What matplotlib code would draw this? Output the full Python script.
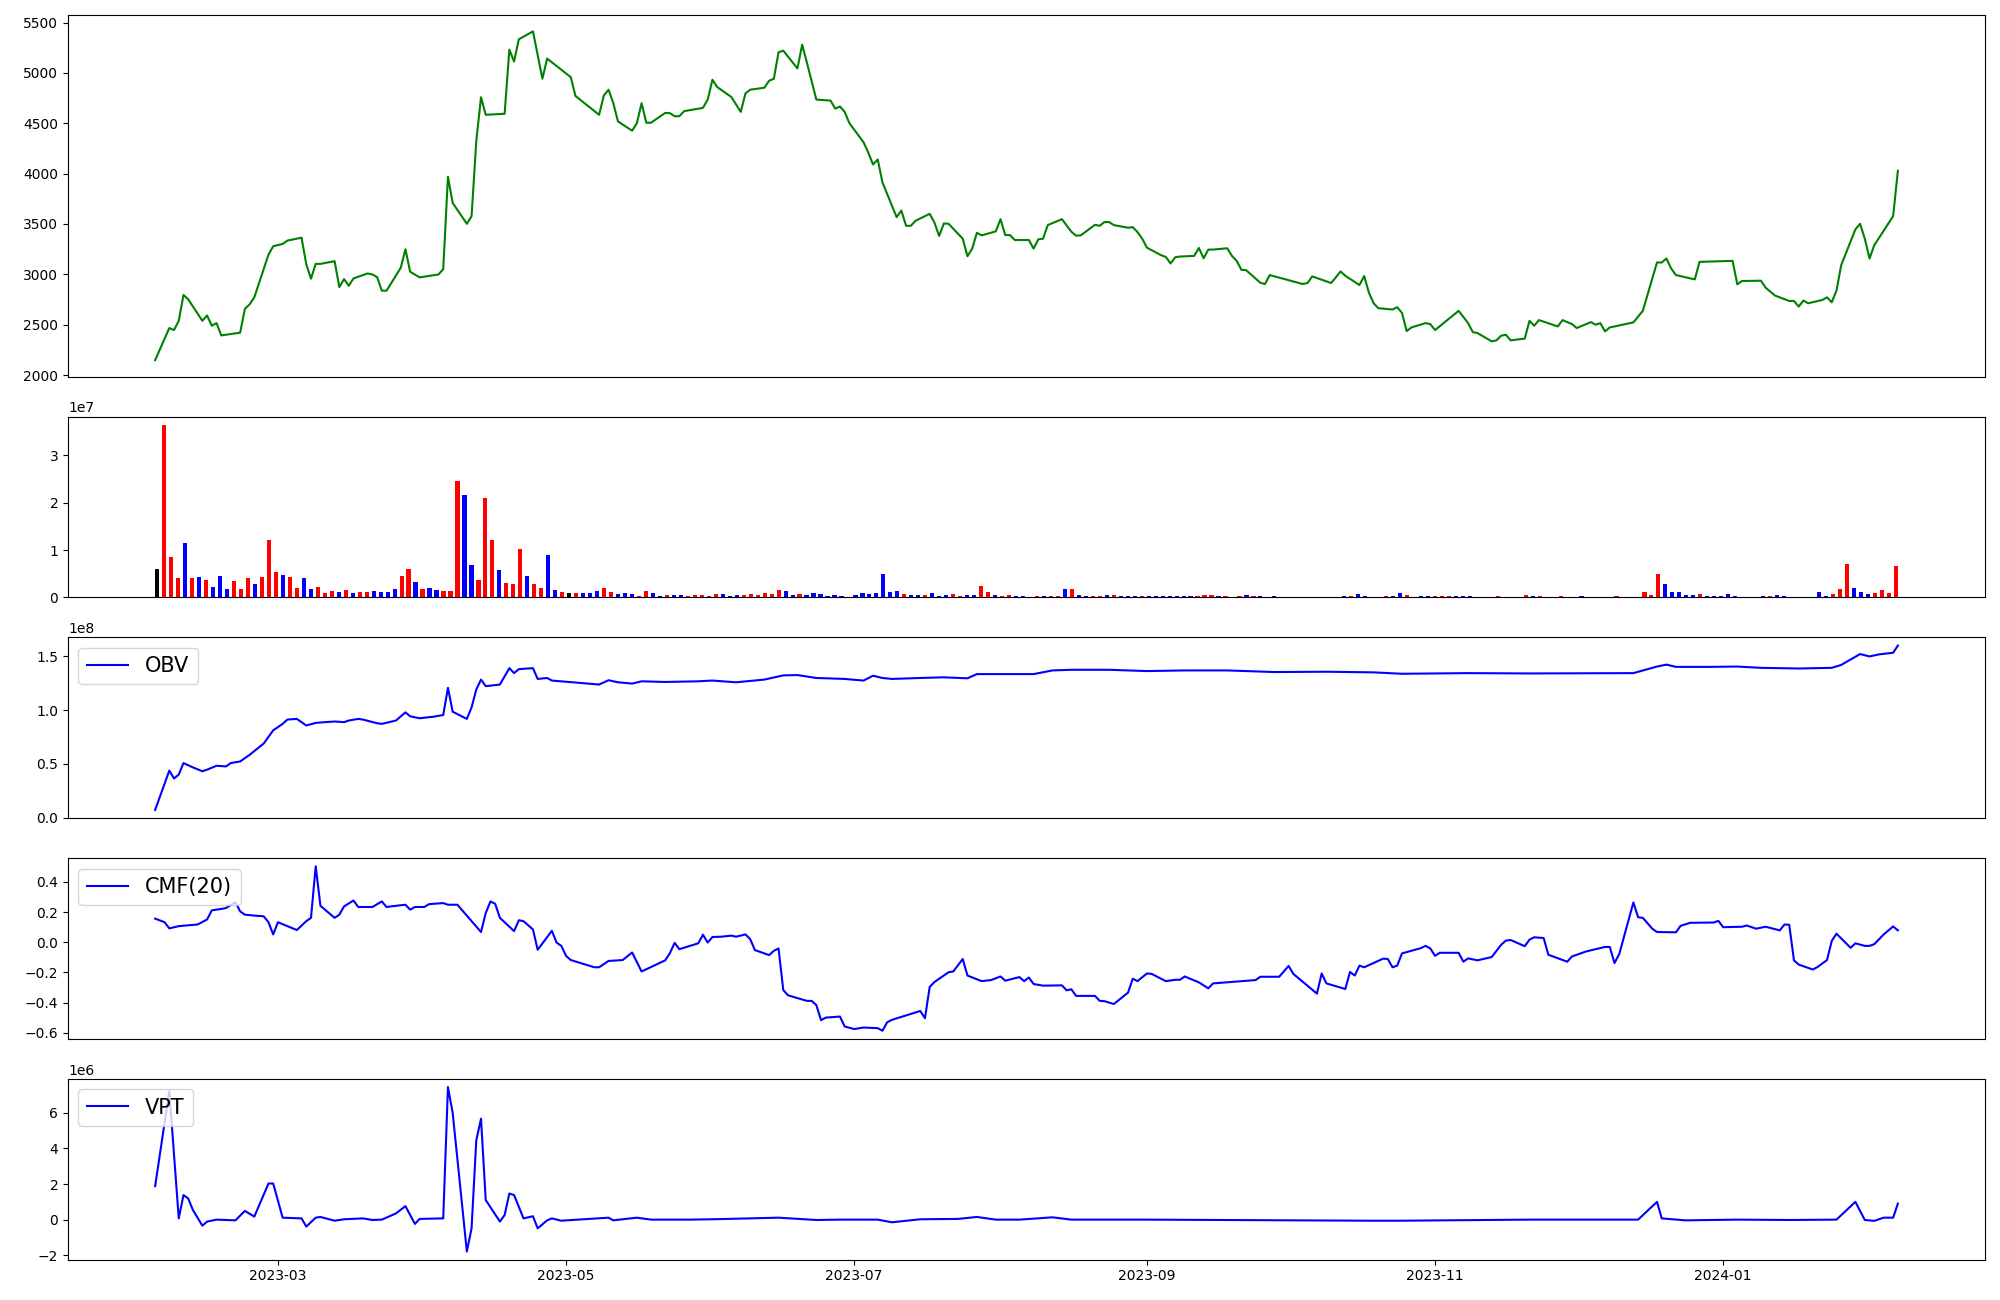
import numpy as np
import pandas as pd
import matplotlib
matplotlib.use('Agg')
import matplotlib.pyplot as plt

# ~~~~~~~~~~~~~~~~~~~~~~~~~~~~~~~~~~~~~~~~~~~~~~~~~~~~~~~~~~~~~~~~~~~~~~
# DATA
# ~~~~~~~~~~~~~~~~~~~~~~~~~~~~~~~~~~~~~~~~~~~~~~~~~~~~~~~~~~~~~~~~~~~~~~
start = pd.Timestamp('2023-02-03')

# close price, x = days since start
price_days = [0, 3, 4, 5, 6, 7, 10, 11, 12, 13,
              14, 18, 19, 20, 21, 24, 25, 27, 28, 31,
              32, 33, 34, 35, 38, 39, 40, 41, 42, 45,
              46, 47, 48, 49, 52, 53, 54, 56, 60, 61,
              62, 63, 66, 67, 68, 69, 70, 74, 75, 76,
              77, 80, 82, 83, 88, 89, 94, 95, 96, 97,
              98, 101, 102, 103, 104, 105, 108, 109, 110, 111,
              112, 116, 117, 118, 119, 122, 124, 125, 126, 129,
              130, 131, 132, 133, 136, 137, 138, 140, 143, 144,
              145, 146, 147, 150, 151, 152, 153, 154, 157, 158,
              159, 160, 161, 164, 165, 166, 167, 168, 171, 172,
              173, 174, 175, 178, 179, 180, 181, 182, 185, 186,
              187, 188, 189, 192, 194, 195, 196, 199, 200, 201,
              202, 203, 206, 207, 208, 209, 210, 213, 214, 215,
              216, 217, 220, 221, 222, 223, 224, 227, 228, 229,
              230, 231, 234, 235, 236, 243, 244, 245, 249, 250,
              251, 252, 255, 256, 257, 258, 259, 262, 263, 264,
              265, 266, 269, 270, 271, 276, 278, 279, 280, 283,
              284, 285, 286, 287, 290, 291, 292, 293, 297, 298,
              300, 301, 304, 305, 306, 307, 308, 313, 315, 318,
              319, 320, 321, 322, 326, 327, 334, 335, 336, 340,
              341, 343, 346, 347, 348, 349, 350, 353, 354, 355,
              356, 357, 360, 361, 362, 363, 364, 368, 369]
price_vals = [2148, 2467, 2447, 2539, 2795, 2753, 2539, 2592, 2490, 2516,
              2394, 2421, 2657, 2703, 2772, 3196, 3279, 3302, 3335, 3364,
              3101, 2957, 3104, 3104, 3131, 2874, 2953, 2887, 2960, 3009,
              2999, 2973, 2838, 2838, 3065, 3249, 3026, 2970, 2999, 3052,
              3969, 3709, 3502, 3578, 4324, 4758, 4584, 4594, 5231, 5113,
              5333, 5412, 4942, 5142, 4958, 4771, 4584, 4775, 4833, 4702,
              4518, 4426, 4501, 4699, 4505, 4505, 4603, 4600, 4570, 4570,
              4620, 4653, 4735, 4932, 4860, 4761, 4613, 4797, 4833, 4853,
              4922, 4942, 5205, 5221, 5044, 5280, 5103, 4735, 4725, 4646,
              4666, 4613, 4501, 4311, 4209, 4091, 4140, 3913, 3568, 3634,
              3482, 3482, 3532, 3601, 3515, 3381, 3505, 3502, 3354, 3180,
              3256, 3413, 3387, 3427, 3548, 3390, 3390, 3341, 3341, 3256,
              3348, 3354, 3489, 3548, 3423, 3384, 3387, 3492, 3482, 3519,
              3519, 3489, 3463, 3469, 3420, 3354, 3265, 3190, 3173, 3108,
              3170, 3177, 3183, 3262, 3160, 3246, 3246, 3259, 3183, 3134,
              3045, 3042, 2917, 2904, 2993, 2904, 2914, 2980, 2914, 2970,
              3029, 2986, 2894, 2983, 2818, 2713, 2664, 2651, 2674, 2618,
              2437, 2473, 2516, 2506, 2447, 2638, 2516, 2427, 2417, 2335,
              2345, 2391, 2401, 2345, 2362, 2539, 2490, 2546, 2483, 2546,
              2506, 2467, 2526, 2500, 2516, 2434, 2473, 2523, 2638, 3118,
              3118, 3157, 3058, 2993, 2950, 3124, 3134, 2901, 2934, 2937,
              2868, 2789, 2736, 2736, 2680, 2740, 2713, 2746, 2772, 2723,
              2838, 3091, 3446, 3502, 3354, 3157, 3289, 3578, 4028]

# daily volume in millions, one per session (drawn by session index)
volume_m = [5.9, 36.4, 8.5, 4.1, 11.6, 4.1, 4.3, 3.6, 2.2, 4.5,
            1.7, 3.4, 1.7, 4.1, 2.8, 4.3, 12.2, 5.3, 4.7, 4.3,
            2.0, 4.1, 1.7, 2.2, 0.9, 1.3, 1.1, 1.5, 0.9, 1.1,
            1.1, 1.3, 1.1, 1.1, 1.7, 4.5, 5.9, 3.2, 1.7, 2.0,
            1.5, 1.3, 1.3, 24.6, 21.7, 6.8, 3.6, 21.0, 12.2, 5.7,
            3.0, 2.8, 10.3, 4.5, 2.8, 2.0, 8.9, 1.5, 1.1, 0.9,
            0.9, 0.9, 0.9, 1.3, 2.0, 1.1, 0.7, 0.9, 0.7, 0.3,
            1.3, 0.9, 0.3, 0.5, 0.5, 0.5, 0.3, 0.5, 0.5, 0.3,
            0.7,
            0.7, 0.3, 0.5, 0.5, 0.7, 0.5, 0.9, 0.7, 1.5, 1.3,
            0.5, 0.7, 0.5, 0.9, 0.7, 0.3, 0.5, 0.3, 0.05, 0.5,
            0.9, 0.7, 0.9, 4.9, 1.1, 1.3, 0.7, 0.5, 0.5, 0.5,
            0.9, 0.3, 0.5, 0.7, 0.3, 0.5, 0.5, 2.4, 1.1, 0.5,
            0.3, 0.5, 0.3, 0.3, 0.05, 0.3, 0.3, 0.3, 0.3, 1.7,
            1.7, 0.5, 0.3, 0.3, 0.3, 0.5, 0.5, 0.3, 0.3, 0.3,
            0.3, 0.3, 0.3, 0.3, 0.3, 0.3, 0.3, 0.3, 0.3, 0.5,
            0.5, 0.3, 0.3, 0.05, 0.3, 0.5, 0.3, 0.3, 0.05, 0.3,
            0.05, 0.05, 0.05, 0.05, 0.05, 0.05, 0.05, 0.05, 0.05, 0.3,
            0.3, 0.7,
            0.3, 0.05, 0.05, 0.3, 0.3, 0.9, 0.5, 0.05, 0.3, 0.3,
            0.3, 0.3, 0.3, 0.3, 0.3, 0.3, 0.05, 0.05, 0.05, 0.3,
            0.05, 0.05, 0.05, 0.5, 0.3, 0.3, 0.05, 0.05, 0.3, 0.05,
            0.05, 0.3, 0.05, 0.05, 0.05, 0.05, 0.3, 0.05, 0.05, 0.05,
            1.1, 0.5, 4.9, 2.8, 1.1, 1.1, 0.5, 0.5, 0.7, 0.3,
            0.3, 0.3, 0.7, 0.3, 0.05, 0.05, 0.05, 0.3, 0.3, 0.5,
            0.3, 0.05, 0.05, 0.05, 0.05, 1.1, 0.3, 0.7, 1.7, 7.0,
            2.0, 1.1, 0.7, 0.9, 1.5, 0.9, 6.6]

# bar colour code per session: r = up candle, b = down candle, k = flat
volume_dir = ('krrrbrbrbb' 'brrrbrrrbr' 'rbbrrrbrbr' 'rbbbbrrbrb' 'brrrbbrrrb'
              'rrrbrrbbrk' 'rbbbrrbbbr' 'rbbrbbrrrr' 'r'
              'bbbrrrrrrb' 'brbbbbbbbb' 'bbbbbbrbbr' 'bbbrrbbrrb' 'rrbbbrbrrb'
              'rbbrrbrbbb' 'rbbbbbbbrr' 'rbrbrbrbbb' 'bbbbbbbbbb' 'rb'
              'bbbrbbrbbb' 'rrrbbbbbbr' 'bbbrbrbbrb' 'bbbbbbrbbb' 'rrrbbbbbrb'
              'bbbbbbbbrb' 'bbbbbbbrrr' 'bbbrrrr')

# on balance volume (1e8)
obv_days = [0, 3, 4, 5, 6, 8, 10, 11, 13, 15,
            16, 18, 20, 23, 25, 27, 28, 30, 32, 34,
            36, 38, 40, 41, 43, 44, 47, 48, 51, 53,
            54, 56, 59, 61, 62, 63, 66, 67, 68, 69,
            70, 73, 75, 76, 77, 80, 81, 83, 84, 90,
            94, 96, 98, 101, 103, 108, 115, 118, 123, 129,
            133, 136, 140, 146, 150, 152, 154, 156, 162, 167,
            172, 174, 179, 186, 190, 194, 202, 210, 218, 227,
            237, 248, 258, 264, 278, 291, 313, 318, 320, 322,
            329, 335, 340, 348, 355, 357, 361, 363, 365, 368,
            369]
obv_vals = [0.073, 0.438, 0.365, 0.401, 0.508, 0.468, 0.432, 0.447, 0.483, 0.477,
            0.508, 0.523, 0.584, 0.690, 0.812, 0.872, 0.912, 0.918, 0.857, 0.881,
            0.888, 0.894, 0.888, 0.903, 0.918, 0.912, 0.878, 0.872, 0.903, 0.979,
            0.942, 0.924, 0.939, 0.954, 1.207, 0.985, 0.918, 1.024, 1.191, 1.283,
            1.222, 1.237, 1.389, 1.343, 1.380, 1.389, 1.289, 1.298, 1.274, 1.252,
            1.237, 1.277, 1.258, 1.246, 1.267, 1.261, 1.267, 1.274, 1.258, 1.283,
            1.322, 1.325, 1.298, 1.289, 1.274, 1.319, 1.298, 1.289, 1.298, 1.304,
            1.295, 1.334, 1.334, 1.334, 1.368, 1.374, 1.374, 1.362, 1.368, 1.368,
            1.353, 1.356, 1.350, 1.337, 1.343, 1.340, 1.343, 1.404, 1.422, 1.401,
            1.401, 1.404, 1.392, 1.386, 1.392, 1.419, 1.520, 1.498, 1.517, 1.532,
            1.599]

# chaikin money flow, 20 periods
cmf_days = [0, 2, 3, 5, 9, 11, 12, 14, 15, 17,
            18, 19, 21, 23, 24, 25, 26, 30, 32, 33,
            34, 35, 38, 39, 40, 42, 43, 46, 48, 49,
            51, 53, 54, 55, 57, 58, 61, 62, 64, 69,
            70, 71, 72, 73, 76, 77, 78, 80, 81, 84,
            85, 86, 87, 88, 93, 94, 96, 99, 101, 103,
            108, 109, 110, 111, 115, 116, 117, 118, 120, 122,
            123, 125, 126, 127, 130, 131, 132, 133, 134, 138,
            139, 140, 141, 142, 145, 146, 148, 150, 153, 154,
            155, 156, 162, 163, 164, 165, 168, 169, 171, 172,
            175, 177, 179, 180, 183, 184, 185, 186, 188, 192,
            193, 194, 195, 199, 200, 201, 203, 206, 207, 208,
            210, 211, 214, 216, 217, 218, 221, 223, 224, 233,
            234, 238, 240, 241, 246, 247, 248, 252, 253, 254,
            255, 256, 260, 261, 262, 263, 264, 268, 269, 270,
            271, 272, 276, 277, 278, 280, 283, 285, 286, 287,
            290, 291, 292, 294, 295, 299, 300, 303, 307, 308,
            309, 310, 313, 314, 315, 317, 318, 322, 323, 325,
            330, 331, 332, 336, 337, 339, 341, 344, 345, 346,
            347, 348, 351, 352, 354, 355, 356, 359, 360, 362,
            363, 364, 366, 368, 369]
cmf_vals = [0.157, 0.133, 0.092, 0.107, 0.118, 0.151, 0.212, 0.221, 0.227, 0.266,
            0.205, 0.183, 0.177, 0.172, 0.133, 0.052, 0.133, 0.081, 0.140, 0.162,
            0.504, 0.242, 0.162, 0.183, 0.238, 0.277, 0.234, 0.234, 0.271, 0.234,
            0.242, 0.249, 0.216, 0.234, 0.234, 0.253, 0.260, 0.249, 0.249, 0.068,
            0.194, 0.271, 0.255, 0.162, 0.074, 0.146, 0.140, 0.085, -0.050, 0.076,
            -0.002, -0.024, -0.090, -0.118, -0.166, -0.166, -0.124, -0.118, -0.068, -0.194,
            -0.120, -0.072, -0.004, -0.046, -0.007, 0.050, -0.002, 0.035, 0.037, 0.044,
            0.037, 0.052, 0.020, -0.052, -0.085, -0.057, -0.041, -0.317, -0.352, -0.389,
            -0.389, -0.417, -0.517, -0.500, -0.493, -0.559, -0.576, -0.566, -0.570, -0.587,
            -0.531, -0.515, -0.456, -0.504, -0.297, -0.264, -0.199, -0.194, -0.111, -0.221,
            -0.258, -0.251, -0.227, -0.255, -0.231, -0.258, -0.234, -0.277, -0.288, -0.286,
            -0.319, -0.312, -0.356, -0.356, -0.389, -0.391, -0.410, -0.334, -0.242, -0.258,
            -0.207, -0.210, -0.258, -0.249, -0.249, -0.227, -0.266, -0.306, -0.273, -0.251,
            -0.229, -0.229, -0.157, -0.210, -0.341, -0.207, -0.273, -0.310, -0.197, -0.221,
            -0.155, -0.166, -0.109, -0.111, -0.166, -0.155, -0.074, -0.039, -0.024, -0.041,
            -0.090, -0.070, -0.070, -0.129, -0.107, -0.120, -0.098, -0.017, 0.011, 0.015,
            -0.026, 0.017, 0.033, 0.028, -0.083, -0.129, -0.094, -0.061, -0.031, -0.031,
            -0.138, -0.079, 0.264, 0.166, 0.162, 0.090, 0.068, 0.066, 0.109, 0.129,
            0.131, 0.142, 0.100, 0.103, 0.111, 0.090, 0.103, 0.079, 0.118, 0.116,
            -0.120, -0.148, -0.181, -0.164, -0.118, 0.009, 0.057, -0.037, -0.007, -0.024,
            -0.024, -0.013, 0.052, 0.105, 0.079]
cmf_ticks = [-0.6, -0.4, -0.2, 0.0, 0.2, 0.4]

# volume price trend (1e6)
vpt_days = [0, 3, 5, 6, 7, 8, 10, 11, 13, 17,
            19, 21, 24, 25, 27, 31, 32, 34, 35, 38,
            40, 44, 46, 48, 51, 53, 55, 56, 61, 62,
            63, 66, 67, 68, 69, 70, 73, 74, 75, 76,
            78, 80, 81, 83, 84, 86, 96, 97, 102, 105,
            113, 118, 132, 140, 145, 153, 156, 162, 170, 174,
            178, 183, 190, 194, 210, 257, 264, 291, 314, 318,
            319, 324, 335, 346, 356, 360, 362, 364, 366, 368,
            369]
vpt_vals = [1.88, 7.22, 0.07, 1.38, 1.19, 0.54, -0.34, -0.11, 0.0, -0.04,
            0.49, 0.17, 2.03, 2.03, 0.11, 0.07, -0.39, 0.11, 0.15, -0.06,
            0.02, 0.07, -0.02, 0.0, 0.35, 0.76, -0.24, 0.04, 0.07, 7.45,
            6.0, -1.79, -0.49, 4.46, 5.67, 1.1, -0.11, 0.26, 1.47, 1.38,
            0.07, 0.19, -0.49, -0.04, 0.07, -0.06, 0.11, -0.04, 0.11, 0.0,
            0.0, 0.02, 0.11, -0.02, 0.0, 0.0, -0.15, 0.02, 0.04, 0.15,
            0.0, 0.0, 0.13, 0.0, 0.0, -0.06, -0.06, 0.0, 0.0, 1.0,
            0.07, -0.04, 0.0, -0.02, 0.0, 1.0, -0.02, -0.07, 0.11, 0.11,
            0.9]

# ~~~~~~~~~~~~~~~~~~~~~~~~~~~~~~~~~~~~~~~~~~~~~~~~~~~~~~~~~~~~~~~~~~~~~~
# MAIN
# ~~~~~~~~~~~~~~~~~~~~~~~~~~~~~~~~~~~~~~~~~~~~~~~~~~~~~~~~~~~~~~~~~~~~~~
def to_dates(days):
  return start + pd.to_timedelta(np.array(days), unit='D')

colour_map = {'r': 'red', 'b': 'blue', 'k': 'black'}
bar_colours = [colour_map[c] for c in volume_dir]

fig = plt.figure(figsize=(20, 13), dpi=100)
gs = fig.add_gridspec(5, 1, height_ratios=[2, 1, 1, 1, 1],
                      left=0.034, right=0.9925, top=0.9885, bottom=0.031,
                      hspace=0.184)

ax1 = fig.add_subplot(gs[0])
ax2 = fig.add_subplot(gs[1])
ax3 = fig.add_subplot(gs[2], sharex=ax1)
ax4 = fig.add_subplot(gs[3], sharex=ax1)
ax5 = fig.add_subplot(gs[4], sharex=ax1)

# price
ax1.plot(to_dates(price_days), price_vals, color='green')

# volume bars, one slot per session
sessions = np.arange(len(volume_m))
ax2.bar(sessions, np.array(volume_m) * 1e6, color=bar_colours, width=0.6)

# indicators
ax3.plot(to_dates(obv_days), np.array(obv_vals) * 1e8, color='blue', label='OBV')
ax3.legend(loc='upper left', fontsize=15)

ax4.plot(to_dates(cmf_days), cmf_vals, color='blue', label='CMF(20)')
ax4.set_yticks(cmf_ticks)
ax4.legend(loc='upper left', fontsize=15)

ax5.plot(to_dates(vpt_days), np.array(vpt_vals) * 1e6, color='blue', label='VPT')
ax5.legend(loc='upper left', fontsize=15)

# only the bottom panel carries the dates
for ax in (ax1, ax2, ax3, ax4):
  ax.tick_params(axis='x', bottom=False, labelbottom=False)

fig.savefig('out.png', dpi=100)
plt.close()
